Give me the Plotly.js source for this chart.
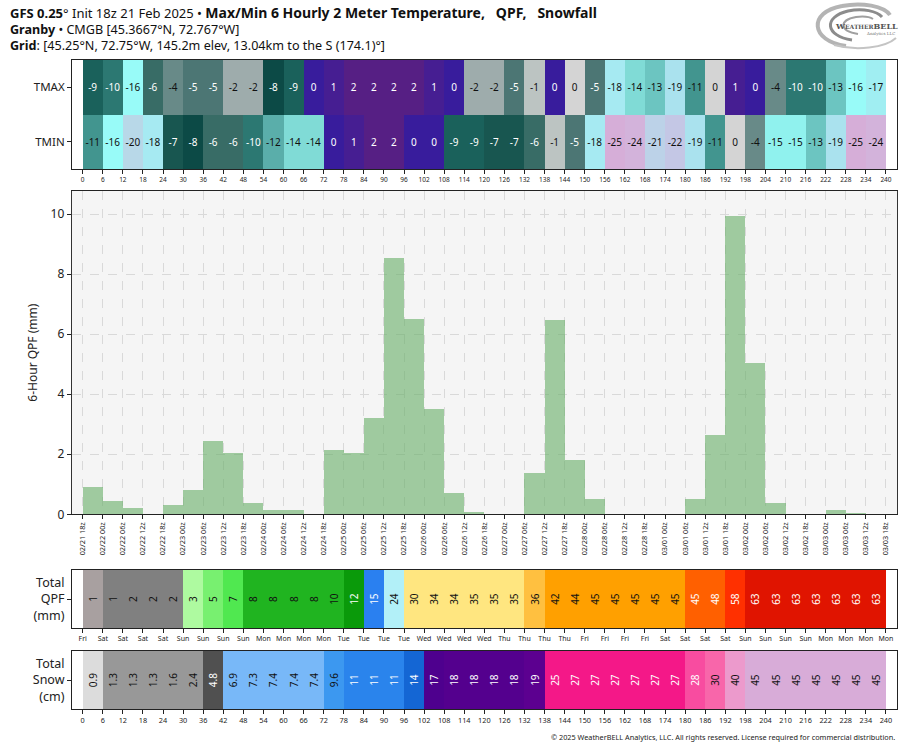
<!DOCTYPE html>
<html><head><meta charset="utf-8">
<script src="https://cdn.plot.ly/plotly-3.0.1.min.js"></script>
<style>html,body{margin:0;padding:0;background:#fff}#chart{width:914px;height:750px}</style>
</head><body><div id="chart"></div>
<script>
// ---------------- data ----------------
const hours = [0,6,12,18,24,30,36,42,48,54,60,66,72,78,84,90,96,102,108,114,120,126,132,138,144,150,156,162,168,174,180,186,192,198,204,210,216,222,228,234,240];
const dateLabels = ['02/21 18z','02/22 00z','02/22 06z','02/22 12z','02/22 18z','02/23 00z','02/23 06z','02/23 12z','02/23 18z','02/24 00z','02/24 06z','02/24 12z','02/24 18z','02/25 00z','02/25 06z','02/25 12z','02/25 18z','02/26 00z','02/26 06z','02/26 12z','02/26 18z','02/27 00z','02/27 06z','02/27 12z','02/27 18z','02/28 00z','02/28 06z','02/28 12z','02/28 18z','03/01 00z','03/01 06z','03/01 12z','03/01 18z','03/02 00z','03/02 06z','03/02 12z','03/02 18z','03/03 00z','03/03 06z','03/03 12z','03/03 18z'];
const dayLabels = ['Fri','Sat','Sat','Sat','Sat','Sun','Sun','Sun','Sun','Mon','Mon','Mon','Mon','Tue','Tue','Tue','Tue','Wed','Wed','Wed','Wed','Thu','Thu','Thu','Thu','Fri','Fri','Fri','Fri','Sat','Sat','Sat','Sat','Sun','Sun','Sun','Sun','Mon','Mon','Mon','Mon'];
const rowLabels = ['TMIN','TMAX'];
// 6-hourly max / min 2 m temperature (°C); ±0.3 marks a value that rounds to 0
const tmax = [-9,-10,-16,-6,-4,-5,-5,-2,-2,-8,-9,0.3,1,2,2,2,2,1,0.3,-2,-2,-5,-1,0.3,-0.3,-5,-18,-14,-13,-19,-11,-0.3,1,0.3,-4,-10,-10,-13,-16,-17];
const tmin = [-11,-16,-20,-18,-7,-8,-6,-6,-10,-12,-14,-14,0.3,1,2,2,0.3,0.3,-9,-9,-7,-7,-6,-1,-5,-18,-25,-24,-21,-22,-19,-11,-0.3,-4,-15,-15,-13,-19,-25,-24];
// 6-hour QPF (mm)
const qpf6h = [0.92,0.45,0.2,0,0.31,0.81,2.45,2.05,0.38,0.13,0.13,0,2.15,2.05,3.2,8.53,6.5,3.5,0.7,0.08,0.02,0.02,1.38,6.46,1.82,0.52,0,0,0,0,0.52,2.65,9.95,5.03,0.38,0,0,0.13,0.05,0];
// accumulated snowfall (cm)
const snowTotal = [0.9,1.3,1.3,1.3,1.6,2.4,4.8,6.9,7.3,7.4,7.4,7.4,9.6,11,11,11,14,17,18,18,18,18,19,25,27,27,27,27,27,27,28,30,40,45,45,45,45,45,45,45];

// ---------------- styling helpers ----------------
const TEMP_COLORS = {'-25':'#d6aed8','-24':'#d3b3db','-23':'#cbbde0','-22':'#c4c7e5','-21':'#bcd2e8','-20':'#b8d8e8','-19':'#aae2ee','-18':'#a6eaf2','-17':'#a0eef2','-16':'#98fbf8','-15':'#90f2ee','-14':'#80dbd6','-13':'#6cc5c1','-12':'#5aaeaa','-11':'#42958f','-10':'#2c7872','-9':'#1a615b','-8':'#0c4a46','-7':'#185650','-6':'#386c66','-5':'#4c7674','-4':'#688a88','-3':'#86a0a0','-2':'#9eacac','-1':'#bcc4c2','1':'#461e92','2':'#561f84','3':'#621e70'};
function tempColor(v){
  const r = Math.round(v);
  if (r === 0) return v < 0 ? '#d4d4d4' : '#381c9c';
  return TEMP_COLORS[String(r)] || (r < 0 ? '#d6aed8' : '#621e70');
}
function qpfColor(v){
  const st = [[1.0,'#a8a0a0'],[2.5,'#808080'],[3.8,'#aefaa0'],[6.3,'#78f070'],[7.5,'#50e850'],[10.16,'#20b420'],[12.7,'#0a9a0a'],[19,'#2a80f0'],[25.4,'#b2f0f8'],[35.56,'#ffe680'],[38.1,'#ffc040'],[45.0,'#ffa000'],[50.8,'#ff6000'],[60,'#ff3000']];
  for (const [t,c] of st) if (v < t) return c;
  return '#e01400';
}
function snowColor(v){
  const st = [[1.0,'#dcdcdc'],[2.54,'#989898'],[5.08,'#505050'],[7.62,'#78b8f8'],[10.16,'#3c98f0'],[12.7,'#2a84ec'],[15.24,'#1466d4'],[17.5,'#4e008e'],[18.5,'#54008e'],[21,'#5c0090'],[27.5,'#f41888'],[29,'#f84ca0'],[35,'#f866aa'],[43,'#ec9acc']];
  for (const [t,c] of st) if (v < t) return c;
  return '#d8acd8';
}
function txtColor(hex){
  const r=parseInt(hex.substr(1,2),16), g=parseInt(hex.substr(3,2),16), b=parseInt(hex.substr(5,2),16);
  return (0.2126*r+0.7152*g+0.0722*b) < 125 ? '#ffffff' : '#111111';
}

// ---------------- derived ----------------
const centers = hours.slice(0, 40).map(h => h + 3);
const ones = centers.map(() => 1);
const qpfTotal = []; qpf6h.reduce((s, v, i) => (qpfTotal[i] = s + v), 0);
const tmaxCol = tmax.map(tempColor), tminCol = tmin.map(tempColor);
const qCol = qpfTotal.map(qpfColor), sCol = snowTotal.map(snowColor);
const fmtT = v => String(Math.round(v) === 0 ? 0 : Math.round(v));
const fmtS = v => v < 10 ? v.toFixed(1) : String(Math.round(v));

const FONT = 'Noto Sans, Open Sans, DejaVu Sans, sans-serif';
const W = 914, H = 750;
const X0 = 72/W, X1 = 897/W;
const XR = [-3.2, 243.3];
const py = p => 1 - p/H;
const QMAX = 10.77;

const cellBar = (x, vals, cols, txt, base, xa, ya, ang) => ({
  type:'bar', x:x, y:ones, base:base, width:6, xaxis:xa, yaxis:ya,
  marker:{color:cols, line:{width:0}},
  text:txt, textposition:'inside', insidetextanchor:'middle', textangle:ang,
  constraintext:'none', cliponaxis:false,
  textfont:{family:FONT, size:10, color:cols.map(txtColor)},
  insidetextfont:{family:FONT, size:10, color:cols.map(txtColor)},
  hoverinfo:'skip', showlegend:false
});

const traces = [
  cellBar(centers, tmax, tmaxCol, tmax.map(fmtT), 1, 'x', 'y', 0),
  cellBar(centers, tmin, tminCol, tmin.map(fmtT), 0, 'x', 'y', 0),
  {type:'bar', x:centers, y:qpf6h, width:6, xaxis:'x2', yaxis:'y2',
   marker:{color:'rgba(101,173,101,0.6)', line:{width:0}}, hoverinfo:'skip', showlegend:false},
  cellBar(centers, qpfTotal, qCol, qpfTotal.map(v => String(Math.round(v))), 0, 'x3', 'y3', -90),
  cellBar(centers, snowTotal, sCol, snowTotal.map(fmtS), 0, 'x4', 'y4', -90)
];

const xBase = (extra) => Object.assign({
  domain:[X0, X1], range:XR, tickmode:'array', tickvals:hours,
  ticks:'outside', ticklen:4, tickwidth:1, tickcolor:'#222',
  showline:true, mirror:true, linecolor:'#222', linewidth:1,
  zeroline:false, showgrid:false, fixedrange:true,
  tickfont:{family:FONT, size:7, color:'#222'}
}, extra);
const yBase = (extra) => Object.assign({
  ticks:'outside', ticklen:4, tickwidth:1, tickcolor:'#222',
  showline:true, mirror:true, linecolor:'#222', linewidth:1,
  zeroline:false, showgrid:false, fixedrange:true,
  tickfont:{family:FONT, size:12.5, color:'#222'}
}, extra);

function pathPx(s){
  return s.replace(/(-?\d+\.?\d*),(-?\d+\.?\d*)/g, (m,a,b) => (a/W).toFixed(5)+','+(1-b/H).toFixed(5));
}

const layout = {
  width:W, height:H, margin:{l:0,r:0,t:0,b:0},
  paper_bgcolor:'#ffffff', plot_bgcolor:'rgba(0,0,0,0)',
  barmode:'overlay', bargap:0, showlegend:false,
  font:{family:FONT, color:'#222'},
  xaxis: xBase({anchor:'y', ticktext:hours.map(String), tickfont:{family:FONT, size:6.5, color:'#222'}}),
  yaxis: yBase({anchor:'x', domain:[py(169), py(60)], range:[0,2], tickmode:'array', tickvals:[0.5,1.5], ticktext:rowLabels, tickfont:{family:FONT, size:11.5, color:'#222'}}),
  xaxis2: xBase({anchor:'y2', ticktext:dateLabels, tickangle:-90, tickfont:{family:FONT, size:7.3, color:'#222'},
     showgrid:true, gridcolor:'#d9d9d9', griddash:'dash', gridwidth:1}),
  yaxis2: yBase({anchor:'x2', domain:[py(514.3), py(191)], range:[0, QMAX], tickmode:'array', tickvals:[0,2,4,6,8,10],
     showgrid:true, gridcolor:'#d9d9d9', griddash:'dash', gridwidth:1, linewidth:1.3, linecolor:'#333',
     tickfont:{family:FONT, size:12, color:'#222'},
     title:{text:'6-Hour QPF (mm)', font:{family:FONT, size:12, color:'#222'}, standoff:10}}),
  xaxis3: xBase({anchor:'y3', ticktext:dayLabels, tickfont:{family:FONT, size:7, color:'#222'}}),
  yaxis3: yBase({anchor:'x3', domain:[py(628), py(570)], range:[0,1], tickmode:'array', tickvals:[0.5], ticktext:['Total<br>QPF<br>(mm)']}),
  xaxis4: xBase({anchor:'y4', ticktext:hours.map(String), tickfont:{family:FONT, size:7.3, color:'#222'}}),
  yaxis4: yBase({anchor:'x4', domain:[py(709), py(651)], range:[0,1], tickmode:'array', tickvals:[0.5], ticktext:['Total<br>Snow<br>(cm)']}),
  shapes:[
    {type:'rect', xref:'x2', yref:'y2', x0:XR[0], x1:XR[1], y0:0, y1:QMAX, fillcolor:'#f5f5f5', line:{width:0}, layer:'below'},
    {type:'path', xref:'paper', yref:'paper', path:pathPx('M 846,46 C 810,41 808,12 842,6 C 862,2 884,6 890,15'), line:{color:'#b4b4b4', width:4}},
    {type:'path', xref:'paper', yref:'paper', path:pathPx('M 852,40 C 825,36 823,17 848,11 C 863,8 877,11 882,17'), line:{color:'#8c8c8c', width:3}},
    {type:'path', xref:'paper', yref:'paper', path:pathPx('M 858,34 C 839,31 839,20 856,17 C 864,16 870,17 873,19'), line:{color:'#a0a0a0', width:2}},
    {type:'path', xref:'paper', yref:'paper', path:pathPx('M 834,45 C 856,51 885,48 896,38'), line:{color:'#c4c4c4', width:2}}
  ],
  annotations:[
    {xref:'paper', yref:'paper', x:8/W, y:py(13), xanchor:'left', yanchor:'middle', showarrow:false, align:'left',
     font:{family:FONT, size:13, color:'#111'},
     text:'<b>GFS 0.25</b>° Init 18z 21 Feb 2025 • <b><span style="font-size:14px">Max/Min 6 Hourly 2 Meter Temperature,\u00a0\u00a0 QPF,\u00a0\u00a0 Snowfall</span></b>'},
    {xref:'paper', yref:'paper', x:8/W, y:py(38), xanchor:'left', yanchor:'middle', showarrow:false, align:'left',
     font:{family:FONT, size:12.6, color:'#111'},
     text:'<b>Granby</b> • CMGB [45.3667°N, 72.767°W]<br><b>Grid</b>: [45.25°N, 72.75°W, 145.2m elev, 13.04km to the S (174.1)°]'},
    {xref:'paper', yref:'paper', x:866/W, y:py(26), xanchor:'center', yanchor:'middle', showarrow:false,
     font:{family:'DejaVu Serif, serif', size:8, color:'#555'}, text:'<b>W<span style="font-size:6px">EATHER</span>BELL</b>'},
    {xref:'paper', yref:'paper', x:880/W, y:py(33), xanchor:'center', yanchor:'middle', showarrow:false,
     font:{family:'DejaVu Serif, serif', size:4, color:'#777'}, text:'Analytics LLC'},
    {xref:'paper', yref:'paper', x:897/W, y:py(737), xanchor:'right', yanchor:'middle', showarrow:false,
     font:{family:FONT, size:7.3, color:'#222'},
     text:'© 2025 WeatherBELL Analytics, LLC. All rights reserved. License required for commercial distribution.'}
  ]
};

Plotly.newPlot('chart', traces, layout, {staticPlot:true, displayModeBar:false});
</script>
</body></html>
